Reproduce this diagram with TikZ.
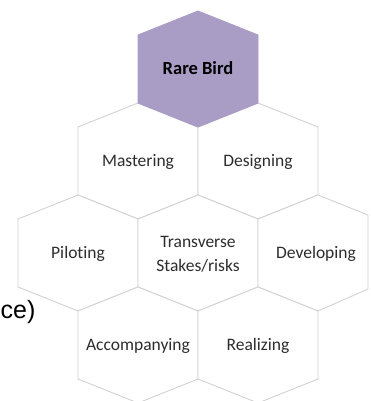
\documentclass[tikz,border=0pt]{standalone}
\usepackage{fontspec}
\setmainfont{Carlito}[Ligatures=NoCommon]
\newfontfamily\slidefont{Liberation Sans}
\usetikzlibrary{positioning}

\definecolor{birdpurple}{RGB}{169,156,197}
\definecolor{hexline}{RGB}{210,210,210}
\definecolor{celltextcol}{RGB}{45,45,45}

% one honeycomb cell, centred on (#2,#3); y runs downwards
\newcommand{\hexcell}[3][]{%
  \draw[cell,#1] (#2,#3-58) -- ++(60,24) -- ++(0,68) -- ++(-60,24)
    -- ++(-60,-24) -- ++(0,-68) -- cycle;}

\tikzset{
  cell/.style={draw=hexline, line width=0.9pt, line join=round, fill=white},
  celltext/.style={text=celltextcol, align=center,
    font=\fontsize{17.5}{24}\selectfont},
}

\begin{document}
\begin{tikzpicture}[x=1pt,y=-1pt]
\useasboundingbox (0,0) rectangle (370,401);
\clip (0,0) rectangle (370,401);

% white cells
\hexcell{138}{161}
\hexcell{258}{161}
\hexcell{78}{253}
\hexcell{198}{253}
\draw[cell] (318,195) -- (368,215) -- (368,289) -- (318,311)
  -- (258,287) -- (258,219) -- cycle;
\hexcell{138}{345}
\hexcell{258}{345}

% top cell
\hexcell[fill=birdpurple,draw=birdpurple]{198}{69}

\node[celltext,text=black,font=\fontsize{18.5}{24}\selectfont\bfseries]
  (rarebird) at (198,68) {Rare Bird};
\node[celltext] (mastering) at (138,162) {Mastering};
\node[celltext] (designing) at (258,162) {Designing};
\node[celltext] (piloting) at (78,254) {Piloting};
\node[celltext] (transverse) at (198,254) {Transverse\\Stakes/risks};
\node[celltext] (developing) at (316,254) {Developing};
\node[celltext] (accompanying) at (138,346) {Accompanying};
\node[celltext] (realizing) at (258,346) {Realizing};

\node[anchor=base west,inner sep=0pt,
  font=\slidefont\fontsize{25}{28}\selectfont] (slidetail) at (0.5,318) {ce)};
\end{tikzpicture}
\end{document}
